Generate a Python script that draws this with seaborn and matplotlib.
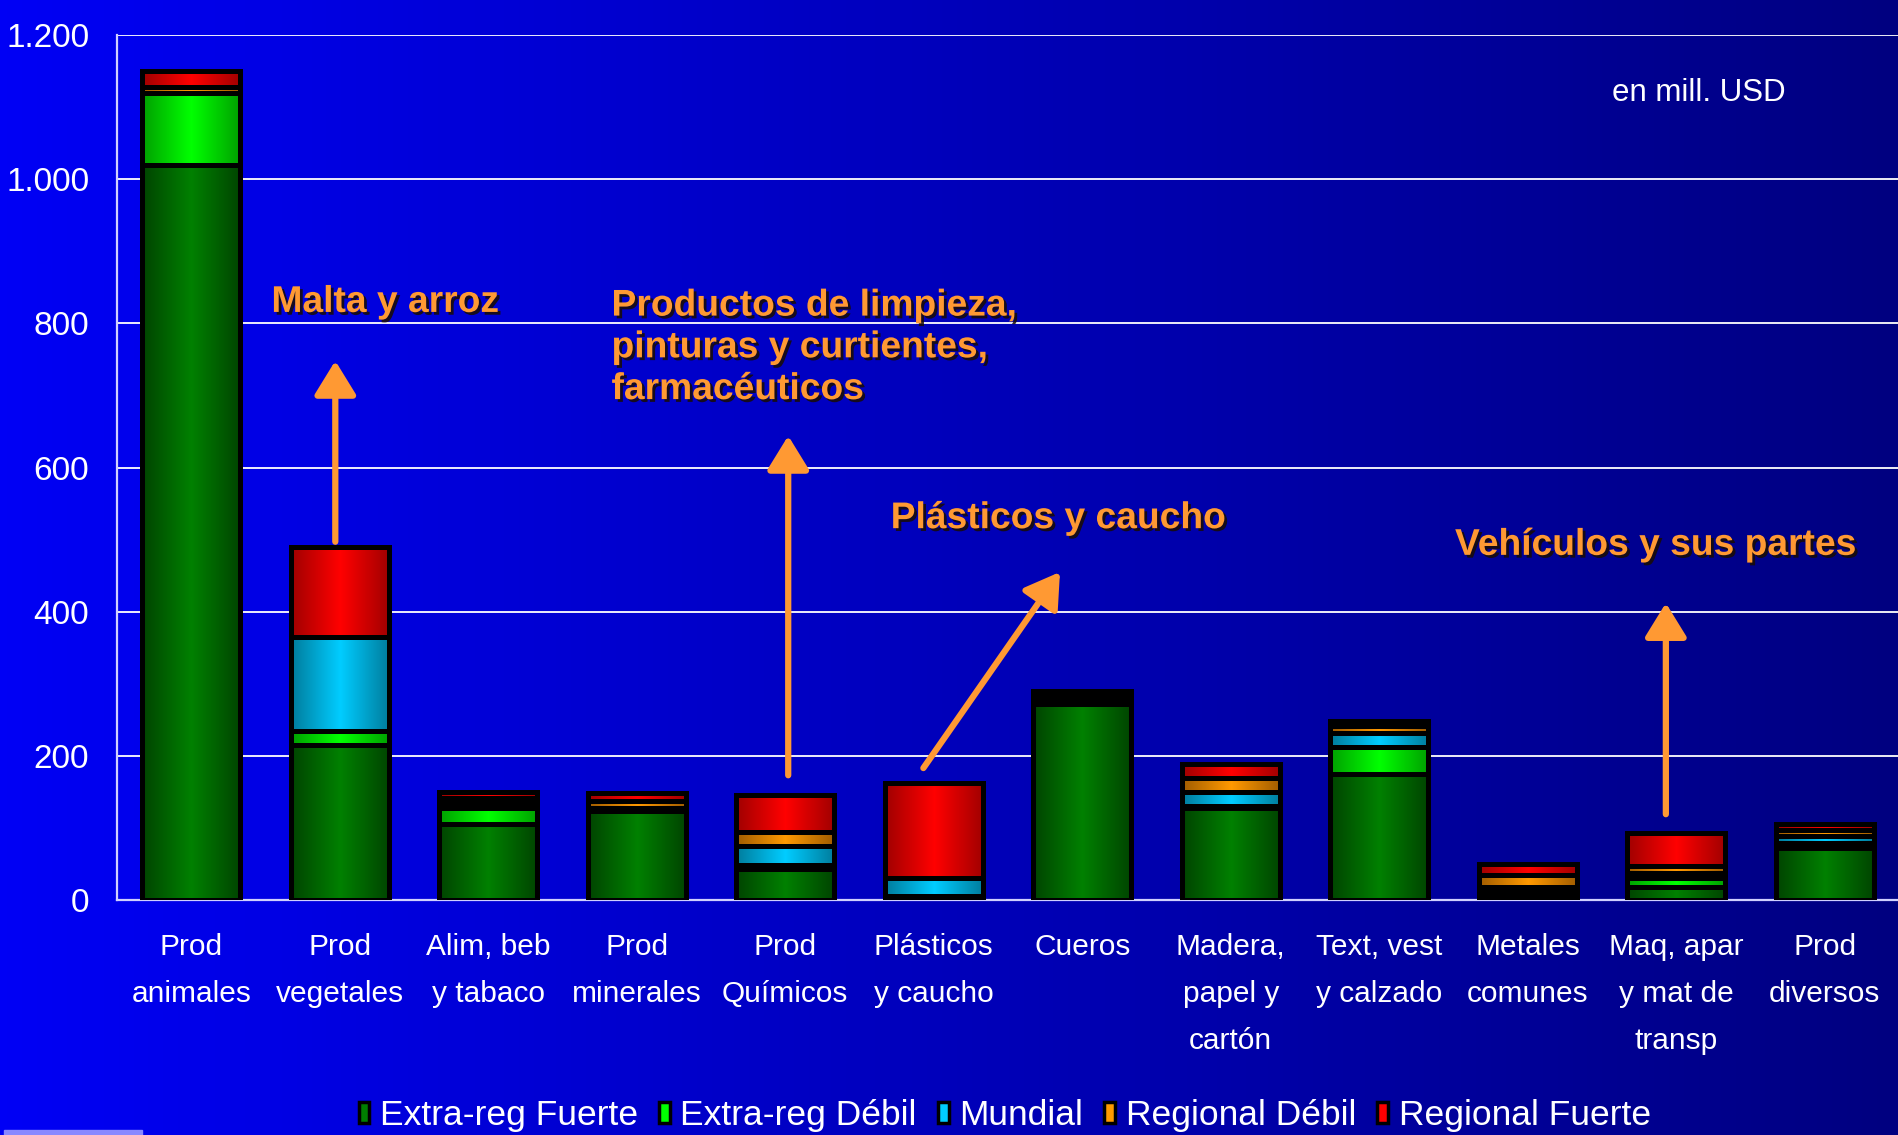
import numpy as np
import matplotlib
matplotlib.use("Agg")
import matplotlib.pyplot as plt
import matplotlib.patheffects as pe
from matplotlib.colors import LinearSegmentedColormap
from matplotlib.patches import Rectangle, Patch
import seaborn as sns

# ── Data (mill. USD) ───────────────────────────────────────
categories = ["Prod\nanimales", "Prod\nvegetales", "Alim, beb\ny tabaco",
              "Prod\nminerales", "Prod\nQuímicos", "Plásticos\ny caucho",
              "Cueros", "Madera,\npapel y\ncartón", "Text, vest\ny calzado",
              "Metales\ncomunes", "Maq, apar\ny mat de\ntransp", "Prod\ndiversos"]
extra_fuerte    = [1020, 215, 106, 124, 43, 3, 272, 128, 175, 6, 18, 72]
extra_debil     = [100, 20, 22, 3, 6, 2, 6, 3, 37, 6, 12, 7]
mundial         = [0, 130, 6, 0, 26, 25, 4, 19, 19, 6, 7, 10]
regional_debil  = [8, 0, 8, 10, 19, 0, 4, 19, 11, 17, 10, 8]
regional_fuerte = [22, 125, 8, 11, 52, 133, 4, 19, 6, 15, 46, 8]
series_names = ["Extra-reg Fuerte", "Extra-reg Débil", "Mundial",
                "Regional Débil", "Regional Fuerte"]

y_ticks  = [0, 200, 400, 600, 800, 1000, 1200]
y_labels = ["0", "200", "400", "600", "800", "1.000", "1.200"]

# (edge shade, centre shade) for the cylinder look
SHADES = [("#004400", "#008000"), ("#00a000", "#00ff00"), ("#007c9c", "#00ccff"),
          ("#a05c00", "#ff9900"), ("#a00000", "#ff0000")]
ORANGE = "#ff9933"
EDGE_LW = 3.6

sns.set_style("white")
plt.rcParams["font.family"] = ["Liberation Sans", "DejaVu Sans"]

fig = plt.figure(figsize=(18.99, 11.35), dpi=100)

# background gradient (bright blue left -> navy right)
bg = fig.add_axes([0, 0, 1, 1], zorder=-5)
bg_cmap = LinearSegmentedColormap.from_list("bg", ["#0000f5", "#000080"])
bg.imshow(np.linspace(0, 1, 256)[None, :], cmap=bg_cmap, aspect="auto",
          extent=[0, 1, 0, 1])
bg.axis("off")
fig.patches.append(Rectangle((4 / 1899, 0), 138 / 1899, 5 / 1135,
                             transform=fig.transFigure, color="#8888ff", zorder=5))

ax = fig.add_axes([117 / 1899, 1 - 900 / 1135, 1782 / 1899, 865 / 1135])
ax.set_facecolor("none")

values = np.array([extra_fuerte, extra_debil, mundial, regional_debil, regional_fuerte])
cum = np.cumsum(values, axis=0)
grad = np.concatenate([np.linspace(0, 1, 64), np.linspace(1, 0, 64)])[None, :]

# layered cumulative bars, top series first
for k in reversed(range(5)):
    z = 10 + (4 - k) * 3
    n0 = len(ax.patches)
    sns.barplot(x=list(range(len(categories))), y=cum[k], color=SHADES[k][1],
                saturation=1, width=0.66, edgecolor="black", linewidth=EDGE_LW,
                ax=ax, zorder=z)
    cmap = LinearSegmentedColormap.from_list(f"s{k}", SHADES[k])
    for p in ax.patches[n0:]:
        x0, y0, w, h = p.get_x(), p.get_y(), p.get_width(), p.get_height()
        im = ax.imshow(grad, cmap=cmap, aspect="auto", extent=[x0, x0 + w, y0, y0 + h],
                       zorder=z + 0.5, interpolation="bilinear")
        im.set_clip_path(p)
        ax.add_patch(Rectangle((x0, y0), w, h, fill=False, edgecolor="black",
                               linewidth=EDGE_LW, joinstyle="round", zorder=z + 1))

ax.set_xlim(-0.5, 11.5)
ax.set_ylim(0, 1200)

# grid / axes
ax.set_yticks(y_ticks)
ax.set_yticklabels(y_labels)
ax.yaxis.grid(True, color="white", linewidth=1.3, zorder=0)
ax.set_axisbelow(True)
ax.set_xticks(range(len(categories)))
ax.set_xticklabels(categories, linespacing=1.85)
ax.set_xticks(np.arange(0.5, 11, 1), minor=True)
ax.tick_params(axis="x", which="major", length=0, pad=24, labelsize=21.5, colors="white")
ax.tick_params(axis="x", which="minor", length=8, width=1.5, color="#d0d0ff", direction="out")
ax.tick_params(axis="y", length=8, width=1.2, color="#d0d0ff", pad=12,
               labelsize=24, labelcolor="white", direction="out")
for s in ["top", "right"]:
    ax.spines[s].set_visible(False)
ax.spines["left"].set_color("#d0d0ff")
ax.spines["left"].set_linewidth(1.6)
ax.spines["bottom"].set_color("#d0d0ff")
ax.spines["bottom"].set_linewidth(1.6)
ax.set_xlabel("")
ax.set_ylabel("")

# annotations
shadow = [pe.withSimplePatchShadow(offset=(2, -2), shadow_rgbFace="#1a0d00", alpha=0.85)]
txt_kw = dict(color=ORANGE, fontsize=26.8, fontweight="bold", ha="left", va="center",
              path_effects=shadow, zorder=40)
ax.text(0.54, 829, "Malta y arroz", **txt_kw)
ax.text(2.83, 766, "Productos de limpieza,\npinturas y curtientes,\nfarmacéuticos",
        linespacing=1.25, **txt_kw)
ax.text(4.71, 529, "Plásticos y caucho", **txt_kw)
ax.text(8.51, 492, "Vehículos y sus partes", **txt_kw)

arrow_kw = dict(arrowstyle="-|>,head_width=0.4,head_length=0.65", color=ORANGE,
                lw=4.5, mutation_scale=32, shrinkA=0, shrinkB=0)
for start, tip in [((0.97, 497), (0.97, 748)), ((4.02, 173), (4.02, 644)),
                   ((4.93, 183), (5.85, 455)), ((9.93, 119), (9.93, 412))]:
    ax.annotate("", xy=tip, xytext=start, arrowprops=arrow_kw, zorder=35)

fig.text(1612 / 1899, 1 - 93 / 1135, "en mill. USD", color="white", fontsize=22.5,
         ha="left", va="center")

handles = [Patch(facecolor=SHADES[k][1], edgecolor="black", linewidth=2.5)
           for k in range(5)]
leg = fig.legend(handles, series_names, loc="center", bbox_to_anchor=(0.529, 0.017),
                 ncol=5, frameon=False, handlelength=0.3, handleheight=0.55,
                 handletextpad=0.3, columnspacing=0.6,
                 prop={"family": ["Liberation Sans Narrow", "Liberation Sans"], "size": 25.5})
for t in leg.get_texts():
    t.set_color("white")

plt.savefig("out.png", dpi=100)
plt.close()
